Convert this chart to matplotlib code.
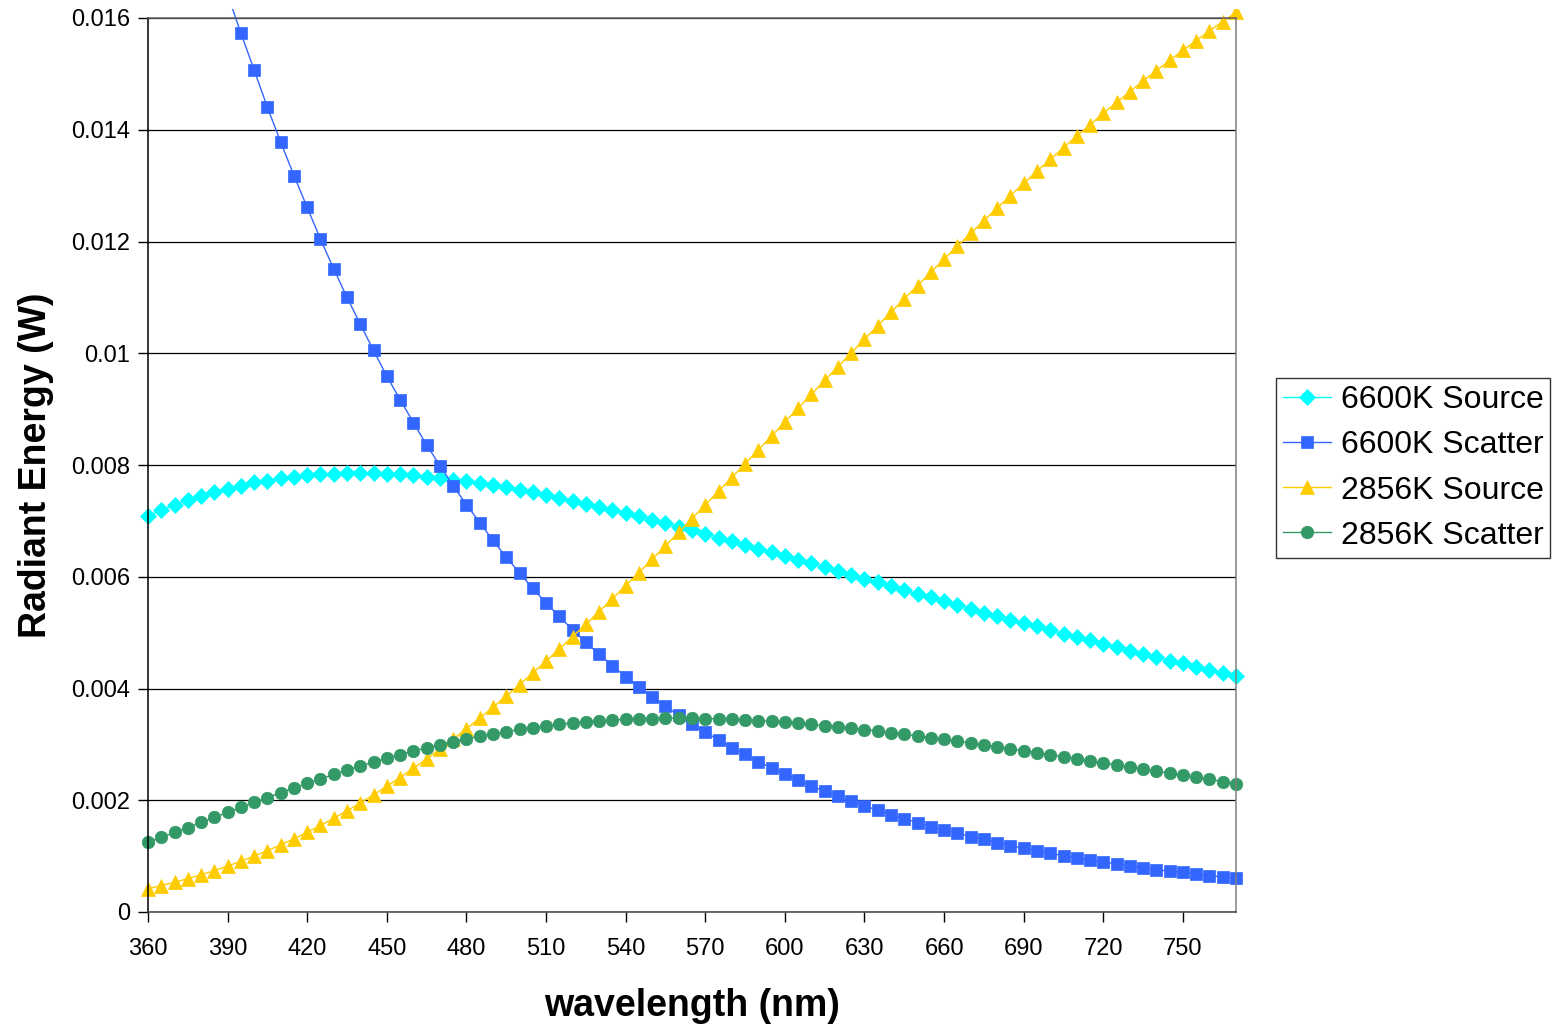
import matplotlib
matplotlib.use("Agg")
import matplotlib.pyplot as plt
import matplotlib.ticker as tic
from matplotlib.patches import Rectangle

plt.rcParams['font.family'] = ['Liberation Sans', 'DejaVu Sans']

# wavelength, nm
wl = [360, 365, 370, 375,
      380, 385, 390, 395,
      400, 405, 410, 415,
      420, 425, 430, 435,
      440, 445, 450, 455,
      460, 465, 470, 475,
      480, 485, 490, 495,
      500, 505, 510, 515,
      520, 525, 530, 535,
      540, 545, 550, 555,
      560, 565, 570, 575,
      580, 585, 590, 595,
      600, 605, 610, 615,
      620, 625, 630, 635,
      640, 645, 650, 655,
      660, 665, 670, 675,
      680, 685, 690, 695,
      700, 705, 710, 715,
      720, 725, 730, 735,
      740, 745, 750, 755,
      760, 765, 770]

src6600 = [0.00709, 0.00719, 0.00728, 0.00737,
           0.007448, 0.00751, 0.00757, 0.00763,
           0.007688, 0.00772, 0.00776, 0.00779,
           0.007817, 0.00783, 0.00784, 0.00785,
           0.007856, 0.00785, 0.00784, 0.00783,
           0.007815, 0.00779, 0.00777, 0.00774,
           0.007712, 0.00768, 0.00764, 0.00760,
           0.007557, 0.00751, 0.00746, 0.00741,
           0.007362, 0.00731, 0.00725, 0.00720,
           0.007139, 0.00708, 0.00702, 0.00696,
           0.006894, 0.00683, 0.00677, 0.00670,
           0.006636, 0.00657, 0.00650, 0.00644,
           0.006369, 0.00630, 0.00624, 0.00617,
           0.006099, 0.00603, 0.00596, 0.00590,
           0.005828, 0.00576, 0.00569, 0.00563,
           0.005561, 0.00550, 0.00543, 0.00536,
           0.005298, 0.00523, 0.00517, 0.00511,
           0.005044, 0.00498, 0.00492, 0.00486,
           0.004798, 0.00474, 0.00468, 0.00462,
           0.004561, 0.00450, 0.00445, 0.00439,
           0.004332, 0.00428, 0.004221]

sca6600 = [0.02118, 0.02033, 0.01949, 0.01870,
           0.01792, 0.01715, 0.01642, 0.01573,
           0.01507, 0.01440, 0.01378, 0.01318,
           0.01261, 0.01204, 0.01151, 0.01100,
           0.01052, 0.01005, 0.00959, 0.00917,
           0.00876, 0.00836, 0.00799, 0.00763,
           0.00729, 0.00697, 0.00665, 0.00635,
           0.00607, 0.00579, 0.00553, 0.00529,
           0.00505, 0.00483, 0.00461, 0.00441,
           0.00421, 0.00403, 0.00385, 0.00368,
           0.00352, 0.00336, 0.00322, 0.00308,
           0.00294, 0.00282, 0.00269, 0.00258,
           0.00247, 0.00236, 0.00226, 0.00216,
           0.00207, 0.00198, 0.00190, 0.00182,
           0.00174, 0.00167, 0.00160, 0.00153,
           0.00147, 0.00141, 0.00135, 0.00130,
           0.00124, 0.00119, 0.00114, 0.00110,
           0.00105, 0.00101, 0.00097, 0.00093,
           0.00090, 0.00086, 0.00083, 0.00079,
           0.00076, 0.00073, 0.00071, 0.00068,
           0.00065, 0.00063, 0.00060]

src2856 = [0.000418, 0.000472, 0.000532, 0.000596,
           0.000666, 0.000741, 0.000822, 0.000908,
           0.001000, 0.001098, 0.001202, 0.001312,
           0.001427, 0.001549, 0.001677, 0.001811,
           0.001951, 0.002097, 0.002249, 0.002407,
           0.002571, 0.002739, 0.002914, 0.003094,
           0.003279, 0.003469, 0.003665, 0.003864,
           0.004069, 0.004278, 0.004490, 0.004707,
           0.004927, 0.005151, 0.005378, 0.005608,
           0.005841, 0.006076, 0.006315, 0.006554,
           0.006796, 0.007039, 0.007284, 0.007530,
           0.007776, 0.008024, 0.008272, 0.008520,
           0.008769, 0.009017, 0.009265, 0.009513,
           0.009759, 0.010004, 0.010249, 0.010493,
           0.010734, 0.010975, 0.011212, 0.011449,
           0.011684, 0.011916, 0.012146, 0.012373,
           0.012599, 0.012820, 0.013039, 0.013257,
           0.013469, 0.013680, 0.013887, 0.014090,
           0.014292, 0.014488, 0.014682, 0.014872,
           0.015059, 0.015241, 0.015420, 0.015596,
           0.015768, 0.015935, 0.016100]

sca2856 = [0.001249, 0.001334, 0.001424, 0.001512,
           0.001603, 0.001692, 0.001783, 0.001872,
           0.001960, 0.002048, 0.002135, 0.002220,
           0.002301, 0.002383, 0.002462, 0.002538,
           0.002612, 0.002684, 0.002752, 0.002818,
           0.002881, 0.002940, 0.002997, 0.003050,
           0.003100, 0.003146, 0.003190, 0.003230,
           0.003267, 0.003301, 0.003331, 0.003358,
           0.003382, 0.003402, 0.003420, 0.003435,
           0.003447, 0.003456, 0.003463, 0.003466,
           0.003468, 0.003466, 0.003463, 0.003457,
           0.003448, 0.003438, 0.003426, 0.003411,
           0.003395, 0.003377, 0.003358, 0.003337,
           0.003314, 0.003290, 0.003265, 0.003239,
           0.003211, 0.003182, 0.003152, 0.003121,
           0.003090, 0.003058, 0.003025, 0.002991,
           0.002957, 0.002922, 0.002887, 0.002851,
           0.002815, 0.002779, 0.002742, 0.002705,
           0.002669, 0.002632, 0.002594, 0.002557,
           0.002520, 0.002483, 0.002446, 0.002409,
           0.002372, 0.002335, 0.002298]

ytick_vals = [0, 0.002, 0.004, 0.006, 0.008, 0.01, 0.012, 0.014, 0.016]
ytick_labels = ['0', '0.002', '0.004', '0.006', '0.008', '0.01', '0.012', '0.014', '0.016']

fig = plt.figure(figsize=(15.54, 10.26), dpi=100)
ax = fig.add_axes([148/1554, 1 - 912/1026, (1236 - 148)/1554, (912 - 18)/1026])

series = [
    (src6600, '6600K Source', '#00FFFF', 'D', 8),
    (sca6600, '6600K Scatter', '#3366FF', 's', 8.5),
    (src2856, '2856K Source', '#FFCC00', '^', 10),
    (sca2856, '2856K Scatter', '#339966', 'o', 9),
]
# clip a bit outside the plot area, like Excel does
clip = Rectangle((-0.02, -0.02), 1.04, 1.03, transform=ax.transAxes,
                 facecolor='none', edgecolor='none')
ax.add_patch(clip)
for vals, name, col, mk, ms in series:
    ln, = ax.plot(wl, vals, color=col, lw=1, marker=mk, markersize=ms,
                  markerfacecolor=col, markeredgecolor=col, markeredgewidth=0.5,
                  label=name)
    ln.set_clip_path(clip)

ax.set_xlim(360, 770)
ax.set_ylim(0, 0.016)
ax.xaxis.set_major_locator(tic.MultipleLocator(30))
ax.set_xticks(range(360, 771, 30))
ax.set_yticks(ytick_vals)
ax.set_yticklabels(ytick_labels)
ax.grid(axis='y', color='black', lw=0.9)
ax.set_axisbelow(True)

ax.spines['left'].set_color('black')
ax.spines['bottom'].set_color('#404040')
ax.spines['right'].set_color('#808080')
ax.spines['top'].set_color('#606060')
for s in ax.spines.values():
    s.set_linewidth(1.1)

ax.tick_params(axis='both', direction='out', length=7, width=1, labelsize=17)
ax.tick_params(axis='y', pad=6)
ax.tick_params(axis='x', pad=12)

ax.set_ylabel('Radiant Energy (W)', fontsize=27, fontweight='bold', labelpad=12)
ax.set_xlabel('wavelength (nm)', fontsize=27, fontweight='bold', labelpad=20)

leg = ax.legend(loc='center left', bbox_to_anchor=(1276/1554, 1 - 468/1026),
                bbox_transform=fig.transFigure, fontsize=23, frameon=True,
                fancybox=False, edgecolor='black', handlelength=1.5,
                handletextpad=0.3, labelspacing=0.47, borderpad=0.22,
                borderaxespad=0)
leg.get_frame().set_linewidth(1)

fig.savefig('out.png', dpi=100)
